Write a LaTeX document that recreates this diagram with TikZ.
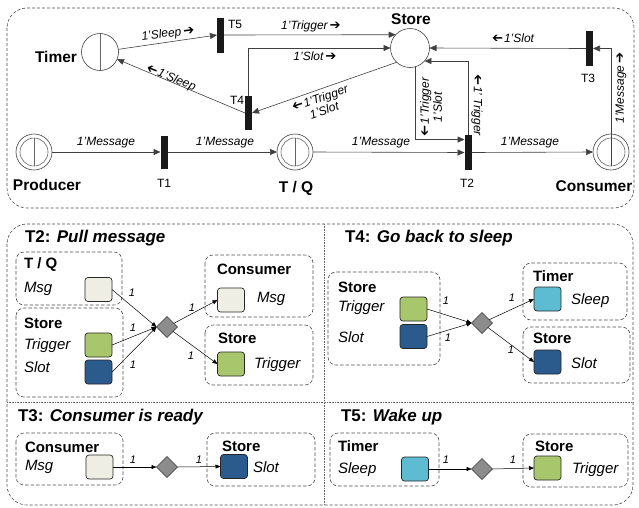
\documentclass[tikz,border=0pt]{standalone}
\usepackage{fontspec}
\setmainfont{Liberation Sans}
\newfontfamily\arrfont{DejaVu Sans}
\usetikzlibrary{arrows.meta,shapes.geometric}
\newcommand\rarr{{\arrfont\upshape\bfseries\scalebox{1.1}{➔}}}
\newcommand\larr{\reflectbox{\rarr}\kern1pt}
\definecolor{tokbeige}{HTML}{EEEEE4}
\definecolor{tokgreen}{HTML}{A8C66C}
\definecolor{tokblue}{HTML}{2B5B8D}
\definecolor{tokcyan}{HTML}{5DBCD2}
\begin{document}
\begin{tikzpicture}[x=1pt,y=-1pt,
  every node/.style={inner sep=0pt, outer sep=0pt},
  place/.style={circle, draw=black!75, line width=0.6pt, minimum size=37pt, fill=white},
  pline/.style={draw=black!60, line width=0.6pt},
  trans/.style={fill=black!90, minimum width=7pt, minimum height=35pt},
  pnarc/.style={draw=black!75, line width=0.6pt, -{Triangle[length=7pt,width=6pt]}},
  elab/.style={font=\fontsize{12}{13}\selectfont\itshape},
  pname/.style={font=\fontsize{15.5}{17}\selectfont\bfseries},
  tname/.style={font=\fontsize{12}{13}\selectfont},
  frame/.style={draw=black!70, line width=0.6pt, dash pattern=on 3pt off 2pt, rounded corners=20pt},
  divider/.style={draw=black!60, line width=0.6pt, densely dotted},
  sbox/.style={draw=black!70, line width=0.6pt, dash pattern=on 3.5pt off 2pt, rounded corners=8pt},
  tok/.style={draw=black!85, rounded corners=3pt, minimum width=27pt, minimum height=24pt, line width=0.7pt},
  trd/.style={diamond, draw=black!80, fill=black!45, minimum width=21pt, minimum height=21pt, line width=0.6pt},
  sarc/.style={draw=black, line width=0.5pt, -{Triangle[length=5pt,width=4pt]}},
  one/.style={font=\fontsize{11}{12}\selectfont\itshape},
  btitle/.style={font=\fontsize{17}{19}\selectfont\bfseries, anchor=west},
  bl/.style={font=\fontsize{15}{17}\selectfont\bfseries, anchor=west},
  il/.style={font=\fontsize{15}{17}\selectfont\itshape, anchor=west}
]
\useasboundingbox (0,0) rectangle (639,507);

% ---------- top panel ----------
\draw[frame] (7,8) rectangle (634,208);

\node[place] (timer) at (100,52) {};
\node[place, minimum size=39pt] (store) at (410,48) {};
\node[place, minimum size=36pt] (prod) at (34,152) {};
\node[place, minimum size=36pt] (tq) at (295,152) {};
\node[place, minimum size=36pt] (cons) at (611,152) {};
\draw[pline] (timer.north) -- (timer.south);
\foreach \p in {prod,tq,cons}{
  \draw[pline] (\p.center) circle[radius=14pt];
  \draw[pline] ([yshift=14pt]\p.center) -- ([yshift=-14pt]\p.center);
}

\node[trans] (t5) at (220.5,35) {};
\node[trans, minimum height=34pt] (t4) at (248.5,113) {};
\node[trans, minimum height=33pt] (t1) at (164,152) {};
\node[trans] (t2) at (468,152.5) {};
\node[trans] (t3) at (589.5,48.5) {};

\node[pname] (ltimer) at (56,57) {Timer};
\node[pname] (lstore) at (411,19) {Store};
\node[pname] (lprod) at (47,185) {Producer};
\node[pname] (ltq) at (296,188) {T / Q};
\node[pname] (lcons) at (594,186) {Consumer};
\node[tname] (lt1) at (164,183) {T1};
\node[tname] (lt2) at (467,183) {T2};
\node[tname] (lt3) at (588,78) {T3};
\node[tname] (lt4) at (237,100) {T4};
\node[tname] (lt5) at (235,24) {T5};

\draw[pnarc] (timer) -- (t5.west);
\draw[pnarc] (t5.east) -- (store.137);
\draw[pnarc] (t4.north) |- (store.west);
\draw[pnarc] (store.227) -- (t4.east);
\draw[pnarc] (t4.west) -- (timer);
\draw[pnarc] (prod.east) -- (t1.west);
\draw[pnarc] (t1.east) -- (tq.west);
\draw[pnarc] (tq.east) -- (t2.west);
\draw[pnarc] (store.-73) |- ([yshift=13pt]t2.west);
\draw[pnarc] (t2.north) |- (store.-42);
\draw[pnarc] (t2.east) -- (cons.west);
\draw[pnarc] ([yshift=-14pt]cons.center) |- (t3.east);
\draw[pnarc] (t3.west) -- (store.east);

\node[elab, rotate=7.5] (e1) at (168,34) {1'Sleep\,\rarr};
\node[elab] (e2) at (311,26) {1'Trigger\,\rarr};
\node[elab] (e3) at (315,56) {1'Slot\,\rarr};
\node[elab, rotate=19, align=center] (e4) at (322,104) {\larr1'Trigger\\1'Slot};
\node[elab, rotate=-22] (e5) at (171,78) {\larr1'Sleep};
\node[elab] (e6) at (106,143) {1'Message};
\node[elab] (e7) at (225,143) {1'Message};
\node[elab] (e8) at (381,143) {1'Message};
\node[elab] (e9) at (530,143) {1'Message};
\node[elab] (e10) at (513,38) {\larr1'Slot};
\node[elab, rotate=90, align=center] (e11) at (431,107) {\larr1'Trigger\\1'Slot};
\node[elab, rotate=-90] (e12) at (477,105) {\larr1' Trigger};
\node[elab, rotate=90] (e13) at (621,88) {1'Message\,\rarr};

% ---------- bottom panel ----------
\draw[frame] (7,224) rectangle (633,505);
\draw[divider] (324,224) -- (324,505);
\draw[divider] (7,402) -- (633,402);

% T2
\node[btitle] (h2) at (25,238) {T2: \textit{Pull message}};
\draw[sbox] (16,252) rectangle (122,305);
\draw[sbox] (16,308) rectangle (123,397);
\draw[sbox] (205,255) rectangle (313,317);
\draw[sbox] (205,325) rectangle (313,385);
\node[bl] at (24,265) {T / Q};
\node[il] at (24,289) {Msg};
\node[bl] at (24,323) {Store};
\node[il] at (24,346) {Trigger};
\node[il] at (24,367) {Slot};
\node[bl] at (217,269) {Consumer};
\node[il] at (257,299) {Msg};
\node[bl] at (218,338) {Store};
\node[il] at (254,365) {Trigger};
\node[tok, fill=tokbeige] (a1) at (98.5,289.5) {};
\node[tok, fill=tokgreen] (a2) at (98.5,345) {};
\node[tok, fill=tokblue] (a3) at (98.5,372) {};
\node[trd] (d2) at (167,327) {};
\node[tok, fill=tokbeige] (a4) at (231,300) {};
\node[tok, fill=tokgreen] (a5) at (231,364) {};
\draw[sarc] (a1.east) -- (d2.west);
\draw[sarc] (a2.east) -- (d2.west);
\draw[sarc] (a3.east) -- (d2.west);
\draw[sarc] (d2) -- (a4.west);
\draw[sarc] (d2) -- (a5.west);
\node[one] at (132,293) {1};
\node[one] at (133,328) {1};
\node[one] at (133,365) {1};
\node[one] at (192,308) {1};
\node[one] at (191,356) {1};

% T4
\node[btitle] (h4) at (345,238) {T4: \textit{Go back to sleep}};
\draw[sbox] (328,272) rectangle (440,365);
\draw[sbox] (523,263) rectangle (627,320);
\draw[sbox] (523,327) rectangle (630,383);
\node[bl] at (338,287) {Store};
\node[il] at (338,308) {Trigger};
\node[il] at (338,337) {Slot};
\node[bl] at (533,276) {Timer};
\node[il] at (571,301) {Sleep};
\node[bl] at (533,338) {Store};
\node[il] at (571,363) {Slot};
\node[tok, fill=tokgreen] (b1) at (413.5,309) {};
\node[tok, fill=tokblue] (b2) at (413.5,336.5) {};
\node[trd] (d4) at (482,323) {};
\node[tok, fill=tokcyan] (b3) at (547.5,299) {};
\node[tok, fill=tokblue] (b4) at (547.5,362) {};
\draw[sarc] (b1.east) -- (d4.west);
\draw[sarc] (b2.east) -- (d4.west);
\draw[sarc] (d4) -- (b3.west);
\draw[sarc] (d4) -- (b4.west);
\node[one] at (446,301) {1};
\node[one] at (448,338) {1};
\node[one] at (512,298) {1};
\node[one] at (511,350) {1};

% T3
\node[btitle] (h3) at (18,417) {T3: \textit{Consumer is ready}};
\draw[sbox] (16,433) rectangle (123,485);
\draw[sbox] (207,433) rectangle (315,486);
\node[bl] at (25,447) {Consumer};
\node[il] at (25,467) {Msg};
\node[bl] at (222,446) {Store};
\node[il] at (253,467) {Slot};
\node[tok, fill=tokbeige] (c1) at (99.5,467) {};
\node[trd] (d3) at (167,467) {};
\node[tok, fill=tokblue] (c2) at (234,466.5) {};
\draw[sarc] (c1.east) -- (d3.west);
\draw[sarc] (d3.east) -- (c2.west);
\node[one] at (133,460) {1};
\node[one] at (199,460) {1};

% T5
\node[btitle] (h5) at (341,417) {T5: \textit{Wake up}};
\draw[sbox] (330,433) rectangle (439,486);
\draw[sbox] (523,434) rectangle (628,487);
\node[bl] at (338,446) {Timer};
\node[il] at (338,470) {Sleep};
\node[bl] at (535,446) {Store};
\node[il] at (572,470) {Trigger};
\node[tok, fill=tokcyan] (g1) at (415,469) {};
\node[trd] (d5) at (482,469) {};
\node[tok, fill=tokgreen] (g2) at (547.5,468) {};
\draw[sarc] (g1.east) -- (d5.west);
\draw[sarc] (d5.east) -- (g2.west);
\node[one] at (446,460) {1};
\node[one] at (513,460) {1};
\end{tikzpicture}
\end{document}
